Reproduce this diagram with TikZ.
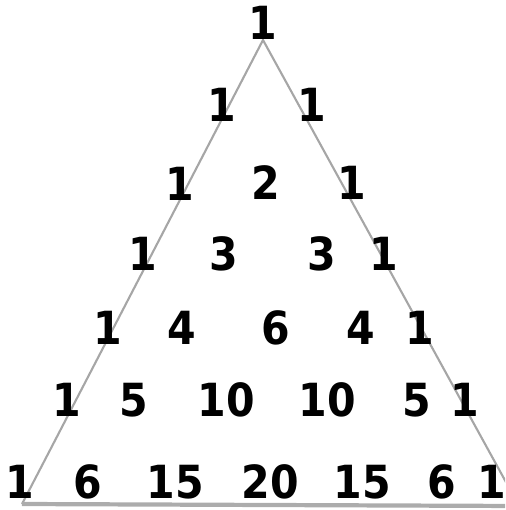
\documentclass[tikz,border=0pt]{standalone}
\usepackage{fontspec}
\setmainfont{DejaVu Sans Condensed}
\usetikzlibrary{positioning}
\tikzset{
  %% ---- numbers ----
  num/.style  = {inner sep=0pt, text=black,
                 font=\fontsize{26}{26}\selectfont\bfseries},
  %% ---- lines ----
  side/.style = {draw=gray!70, line width=1.2pt},
  base/.style = {draw=gray!65, line width=2.4pt},
}
\begin{document}
\begin{tikzpicture}[x=0.02cm, y=-0.02cm]
\useasboundingbox (0,0) rectangle (505,510);
\clip (0,0) rectangle (505,510);
\coordinate (apex)  at (263,40);
\coordinate (left)  at (22,504);
\coordinate (right) at (518,504);
\coordinate (rend)  at (520,506);
\draw[side] (left) -- (apex) -- (right);
\draw[base] (left) -- (rend);
% rows of the triangle
\foreach \x/\y/\v/\n in {263/23/1/a0,
  222/105/1/b0, 312/105/1/b1,
  180/184/1/c0, 266/183/2/c1, 352/183/1/c2,
  143/254/1/d0, 224/254/3/d1, 322/254/3/d2, 384/254/1/d3,
  108/328/1/e0, 182/328/4/e1, 276/328/6/e2, 361/328/4/e3, 420/328/1/e4,
  67/400/1/f0, 134/400/5/f1, 226/400/10/f2, 327/400/10/f3, 417/400/5/f4, 465/400/1/f5,
  20/482/1/g0, 88/482/6/g1, 175/482/15/g2, 270/482/20/g3, 362/482/15/g4, 442/482/6/g5, 492/482/1/g6}
  \node[num] (\n) at (\x,\y) {\v};
\end{tikzpicture}
\end{document}
